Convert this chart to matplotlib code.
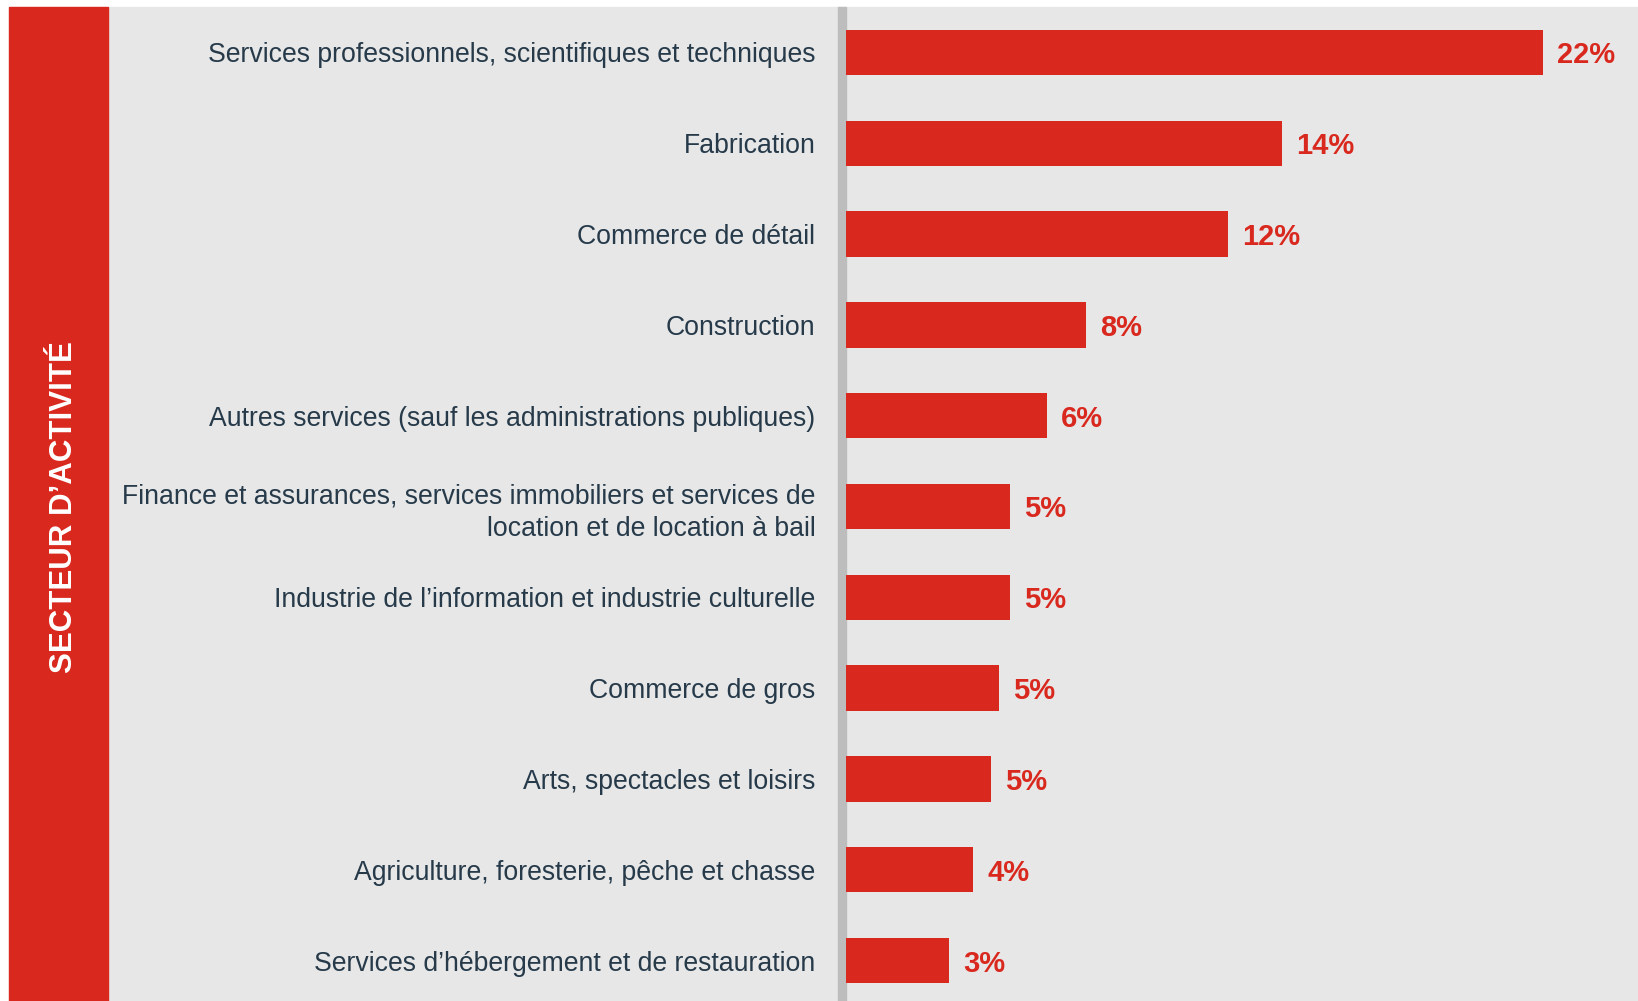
import matplotlib.pyplot as plt
from matplotlib.patches import Rectangle

# share of businesses by sector (%)
sectors = [
    "Services professionnels, scientifiques et techniques",
    "Fabrication",
    "Commerce de détail",
    "Construction",
    "Autres services (sauf les administrations publiques)",
    "Finance et assurances, services immobiliers et services de\nlocation et de location à bail",
    "Industrie de l’information et industrie culturelle",
    "Commerce de gros",
    "Arts, spectacles et loisirs",
    "Agriculture, foresterie, pêche et chasse",
    "Services d’hébergement et de restauration",
]
shares = [21.9, 13.7, 12.0, 7.55, 6.3, 5.15, 5.15, 4.8, 4.55, 4.0, 3.25]
side_title = "SECTEUR D’ACTIVITÉ"

red = "#D9281E"
grey_bg = "#E7E7E7"
text_col = "#263A4A"

plt.rcParams['font.family'] = ['Liberation Sans', 'DejaVu Sans']

W, H = 1638, 1001
fig = plt.figure(figsize=(W / 100, H / 100), dpi=100, facecolor="white")

# background panels
fig.patches.append(Rectangle((108 / W, 0), 1 - 108 / W, 1 - 7 / H,
                             transform=fig.transFigure, color=grey_bg, zorder=-3))
fig.patches.append(Rectangle((9 / W, 0), 99 / W, 1 - 7 / H,
                             transform=fig.transFigure, color=red, zorder=-2))
fig.patches.append(Rectangle((838 / W, 0), 8 / W, 1 - 7 / H,
                             transform=fig.transFigure, color="#BDBDBD", zorder=-1))
fig.text(64 / W, 0.493, side_title, rotation=90, color="white", fontsize=22.5,
         fontweight="bold", ha="center", va="center")

ax = fig.add_axes([846 / W, 0, 1 - 846 / W, 1 - 7 / H])
ax.set_facecolor("none")

pos = list(range(len(sectors)))
ax.barh(pos, shares, height=0.5, color=red)
for y, v in zip(pos, shares):
    ax.annotate(f"{v:.0f}%", xy=(v, y), xytext=(10, 0), textcoords="offset points",
                va="center_baseline", ha="left", color=red, fontsize=21,
                fontweight="bold")

ax.set_xlim(0, 24.88)
ax.set_ylim(10.446, -0.501)
ax.set_yticks(pos)
ax.set_yticklabels(sectors, fontsize=19.2, color=text_col, multialignment="right",
                   linespacing=1.35)
ax.tick_params(axis="y", length=0, pad=22)
ax.set_xticks([])
for s in ax.spines.values():
    s.set_visible(False)

fig.savefig("out.png", dpi=100, facecolor="white")
